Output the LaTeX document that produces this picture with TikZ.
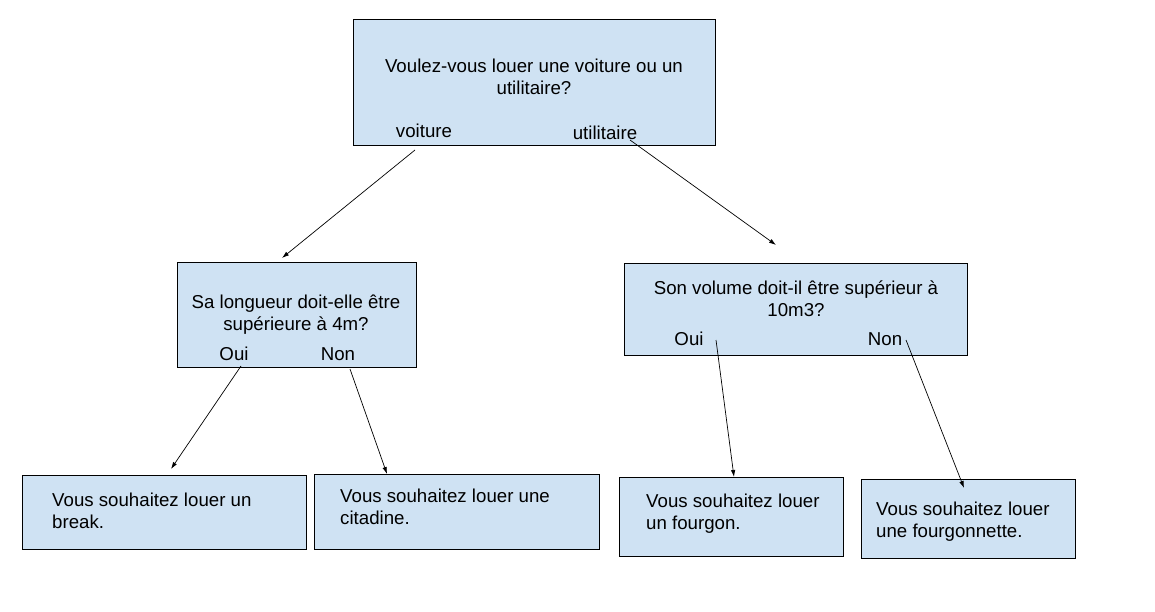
\documentclass[tikz,border=0pt]{standalone}
\usepackage{fontspec}
\setmainfont{Liberation Sans}
\usetikzlibrary{arrows.meta}
\definecolor{boxblue}{HTML}{CFE2F3}
\tikzset{
  box/.style={draw=black, line width=0.8pt, fill=boxblue},
  txt/.style={inner sep=0pt, font=\fontsize{18.67}{22}\selectfont},
  ctxt/.style={txt, align=center},
  ltxt/.style={txt, align=left, anchor=west},
  conn/.style={line width=0.7pt, -{Latex[length=7pt,width=4.5pt]}}
}
\begin{document}
\begin{tikzpicture}[x=1pt,y=-1pt]
\useasboundingbox (0,0) rectangle (1155,612);
% boxes
\draw[box] (353,19) rectangle (715,145);
\draw[box] (177,262) rectangle (416,367);
\draw[box] (624,263) rectangle (967,355);
\draw[box] (22,475) rectangle (306,549);
\draw[box] (314,474) rectangle (599,549);
\draw[box] (619,477) rectangle (843,556);
\draw[box] (861,479) rectangle (1075,558);
% texts
\node[ctxt] (q1) at (534,79.5) {\strut Voulez-vous louer une voiture ou un\\\strut utilitaire?};
\node[ctxt] (voiture) at (424,133.5) {\strut voiture};
\node[ctxt] (utilitaire) at (605,135.5) {\strut utilitaire};
\node[ctxt] (q2) at (296,315) {\strut Sa longueur doit-elle être\\\strut supérieure à 4m?};
\node[ctxt] (oui1) at (234,356.5) {\strut Oui};
\node[ctxt] (non1) at (338,356.5) {\strut Non};
\node[ctxt] (q3) at (796,301.5) {\strut Son volume doit-il être supérieur à\\\strut 10m3?};
\node[ctxt] (oui2) at (689,341.5) {\strut Oui};
\node[ctxt] (non2) at (885,341.5) {\strut Non};
\node[ltxt] (r1) at (52,513) {\strut Vous souhaitez louer un\\\strut break.};
\node[ltxt] (r2) at (340,509.5) {\strut Vous souhaitez louer une\\\strut citadine.};
\node[ltxt] (r3) at (646,514) {\strut Vous souhaitez louer\\\strut un fourgon.};
\node[ltxt] (r4) at (876,522) {\strut Vous souhaitez louer\\\strut une fourgonnette.};
% connector ends
\coordinate (a1s) at (415,150);
\coordinate (a1e) at (282,258);
\coordinate (a2s) at (630,140);
\coordinate (a2e) at (776,245);
\coordinate (a3s) at (241,366);
\coordinate (a3e) at (171,469);
\coordinate (a4s) at (350,369);
\coordinate (a4e) at (387,474);
\coordinate (a5s) at (716,340);
\coordinate (a5e) at (734,477);
\coordinate (a6s) at (906,340);
\coordinate (a6e) at (964,488);
\draw[conn] (a1s) -- (a1e);
\draw[conn] (a2s) -- (a2e);
\draw[conn] (a3s) -- (a3e);
\draw[conn] (a4s) -- (a4e);
\draw[conn] (a5s) -- (a5e);
\draw[conn] (a6s) -- (a6e);
\end{tikzpicture}
\end{document}
